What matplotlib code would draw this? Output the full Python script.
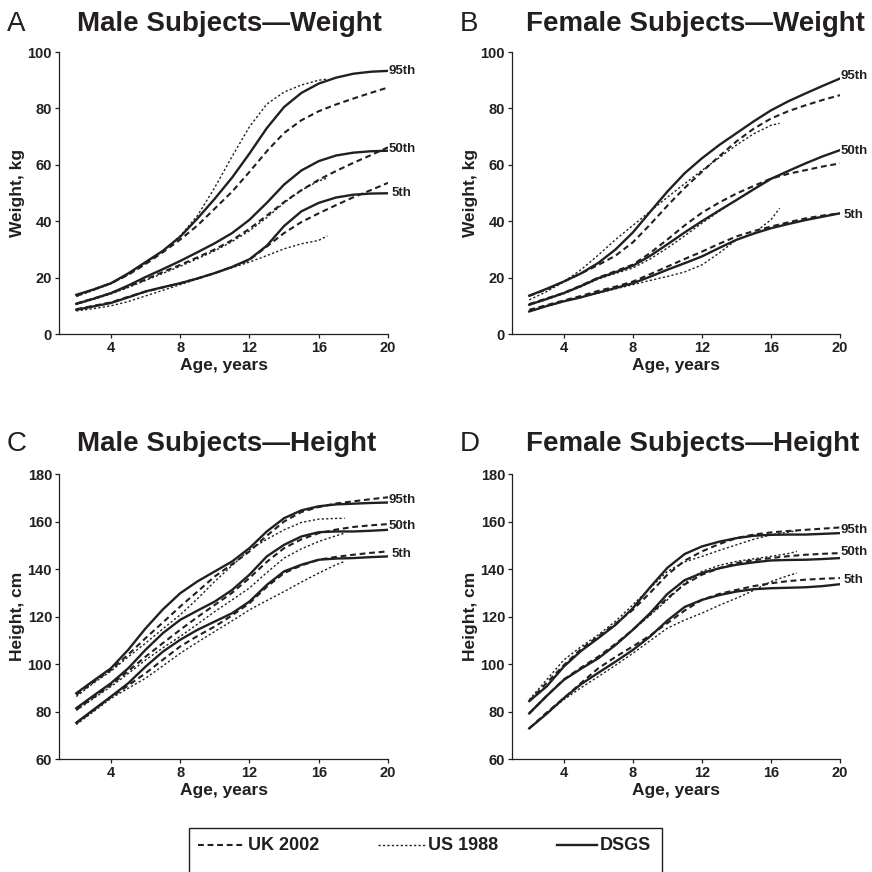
import matplotlib
matplotlib.use("Agg")
from matplotlib import pyplot as plt
from matplotlib.lines import Line2D
from matplotlib.patches import Rectangle
from matplotlib import font_manager

plt.rcParams['font.family'] = ['Liberation Sans', 'DejaVu Sans']
plt.rcParams['font.weight'] = 'bold'
plt.rcParams['axes.labelweight'] = 'bold'

INK = '#231f20'

# ages
ages = list(range(2, 21))
us_ages_wt = list(range(2, 17)) + [16.5]
us_ages_ht = list(range(2, 18)) + [17.5]
pct_labels = ['95th', '50th', '5th']

# A - male weight
a_dsgs_95 = [13.9, 15.8, 18, 21.5, 25.5, 29.5, 34.5, 41, 48, 55.5, 64, 73, 80.5, 85.5, 88.8, 90.9, 92.3, 93, 93.3]
a_uk_95 = [13.5, 15.8, 18, 21, 24.8, 29, 33.5, 38.5, 44.5, 50.5, 57.5, 64.8, 71.3, 75.8, 79, 81.4, 83.5, 85.5, 87.4]
a_us_95 = [13.3, 15.5, 17.8, 21, 25, 29.5, 34.8, 42, 52, 63, 73.5, 81.5, 85.8, 88.3, 90, 90.4]
a_dsgs_50 = [10.7, 12.5, 14.5, 17.2, 20.2, 23, 25.9, 29, 32.2, 35.8, 40.5, 46.5, 53, 58, 61.3, 63.3, 64.3, 64.8, 65]
a_uk_50 = [10.8, 12.6, 14.5, 16.8, 19.3, 22, 24.5, 27.2, 30, 33.3, 37.3, 42, 46.8, 51, 54.7, 57.8, 60.7, 63.4, 66.2]
a_us_50 = [10.5, 12.3, 14.2, 16.5, 19, 21.5, 24, 26.7, 29.5, 32.8, 36.6, 41.3, 46.5, 51, 54.3, 55.3]
a_dsgs_5 = [8.6, 9.8, 11, 13, 15.1, 16.6, 18, 19.7, 21.6, 23.8, 26.5, 31.3, 38.3, 43.5, 46.5, 48.4, 49.4, 49.8, 49.9]
a_uk_5 = [8.8, 10, 11.2, 13.2, 15, 16.5, 18, 19.7, 21.6, 23.8, 26.3, 31, 35.8, 39.7, 42.8, 45.7, 48.5, 51, 53.6]
a_us_5 = [8.2, 9, 10, 11.5, 13.5, 15.5, 17.5, 19.5, 21.6, 23.5, 25.5, 27.8, 30.2, 32, 33.2, 34.8]
a_label_y = [93.2, 65.6, 50.1]

# B - female weight
b_dsgs_95 = [13.6, 16, 18.6, 21.5, 25.2, 30, 36, 43.3, 50.5, 57, 62.3, 67, 71.2, 75.4, 79.3, 82.5, 85.3, 88, 90.6]
b_uk_95 = [13.5, 15.8, 18.6, 21.5, 24.5, 27.8, 32.5, 38.8, 45.5, 51.8, 57.5, 63, 68.3, 72.8, 76.4, 79, 81.1, 83, 84.7]
b_us_95 = [12.1, 15, 18.5, 22.8, 28, 33.5, 38.5, 43.5, 48.5, 53.3, 58, 62.5, 67, 71, 74, 74.7]
b_dsgs_50 = [10.4, 12.4, 14.5, 17, 19.8, 21.9, 24.2, 27.7, 31.8, 36, 40, 43.8, 47.5, 51.3, 55, 57.8, 60.5, 63, 65.2]
b_uk_50 = [10.6, 12.6, 14.6, 17.2, 20, 22.3, 24.6, 28.7, 33.5, 38.5, 43, 46.6, 49.8, 52.5, 55.1, 56.8, 58.1, 59.4, 60.5]
b_us_50 = [10.2, 12.2, 14.3, 16.8, 19.5, 21.5, 23.4, 26.6, 30.5, 34.8, 39.3, 43.5, 47.5, 51.5, 55.2, 56.4]
b_dsgs_5 = [8, 9.9, 11.6, 13, 14.7, 16.3, 18, 20.3, 22.8, 25.1, 27.5, 30.5, 33.4, 35.6, 37.5, 39, 40.4, 41.6, 42.8]
b_uk_5 = [8.6, 10.2, 11.9, 13.5, 15.3, 16.8, 18.6, 21.2, 23.9, 26.6, 29.2, 32, 34.6, 36.5, 38.1, 39.6, 41, 42, 42.8]
b_us_5 = [8, 9.8, 11.5, 13, 14.5, 16, 17.5, 19, 20.4, 22, 24.5, 28.7, 33.4, 35.7, 40.5, 44.6]
b_label_y = [91.4, 65, 42.2]

# C - male height
c_dsgs_95 = [87.7, 93, 98.2, 106, 115, 123, 129.8, 134.8, 139, 143.2, 148.8, 155.8, 161.4, 164.7, 166.4, 167.2, 167.5, 167.8, 168]
c_uk_95 = [87, 92.5, 97.5, 104, 110.9, 117.5, 124.2, 130.5, 136.9, 142, 147.4, 154, 160, 164, 166.1, 167.6, 168.5, 169.4, 170.2]
c_us_95 = [86.3, 92, 97, 103, 108.8, 114.8, 120.7, 127.5, 134.8, 141.5, 148.1, 152.5, 156.5, 159.6, 161, 161.3, 161.3]
c_dsgs_50 = [81.4, 86.7, 91.9, 98.2, 106, 113, 118.6, 122.5, 126.3, 131.2, 137.6, 145.3, 150.2, 153.7, 155.5, 155.8, 155.8, 156.1, 156.5]
c_uk_50 = [80.7, 86, 91.3, 97, 103.1, 108.8, 114.4, 119.8, 124.9, 130, 136.2, 143, 148.8, 152.5, 155.1, 156.6, 157.7, 158.4, 158.9]
c_us_50 = [80.5, 85.5, 90.5, 96, 101.7, 106.8, 111.6, 116.8, 122.1, 127, 132, 138.5, 144.6, 148.5, 151.6, 154, 155.1]
c_dsgs_5 = [75.3, 80.8, 86.3, 91.9, 98.9, 105.2, 110.2, 114.4, 117.9, 121.4, 126.3, 133.3, 139, 141.8, 143.9, 144.4, 144.6, 145, 145.3]
c_uk_5 = [75, 80.5, 86, 91, 96.1, 101.8, 107.4, 111.8, 115.8, 120.5, 125.6, 132.5, 138.3, 141.5, 143.9, 145.1, 146, 146.8, 147.4]
c_us_5 = [74.5, 80, 85.5, 89.8, 94, 99.2, 104.5, 109.2, 113.7, 118.2, 122.8, 126.7, 130.5, 134.5, 138.3, 141.8, 143.2]
c_label_y = [169.2, 158.2, 146.4]

# D - female height
d_dsgs_95 = [84.4, 90.5, 98.9, 105.5, 110.9, 116.5, 123.5, 132.3, 140.5, 146.3, 149.5, 151.5, 153, 154, 154.4, 154.5, 154.5, 154.8, 155.1]
d_uk_95 = [84.4, 92, 99.5, 106.3, 111.6, 117, 122.8, 130, 137.6, 143.5, 147.4, 150.5, 153, 154.5, 155.4, 156, 156.5, 157, 157.5]
d_us_95 = [85, 93.3, 101.7, 107.3, 112.3, 118, 124.9, 132, 139, 143, 145.3, 147.8, 150.2, 152.5, 154.4, 155.5, 156.1]
d_dsgs_50 = [79.2, 86.5, 93.3, 98, 102.4, 108, 114.4, 121.4, 129.5, 135.3, 138.3, 140.3, 141.8, 142.8, 143.6, 143.8, 143.9, 144.2, 144.6]
d_uk_50 = [79.2, 86.5, 93.5, 98.5, 103.1, 108.5, 114.4, 121, 127.7, 133.5, 137.6, 140.3, 142.5, 143.7, 144.6, 145.4, 146, 146.4, 146.7]
d_us_50 = [79.5, 86.5, 93.3, 98, 102.4, 108, 114.4, 120.5, 127, 134, 139, 141.5, 143.2, 144.3, 145.3, 146.5, 147.4]
d_dsgs_5 = [72.9, 79, 85.6, 91.5, 96.3, 101, 105.9, 111.6, 118.3, 124, 127, 129, 130.5, 131.5, 131.9, 132.1, 132.3, 132.8, 133.6]
d_uk_5 = [72.9, 79.5, 85.6, 92, 98.2, 103, 107.4, 112, 117.2, 122.5, 127, 129.5, 131.2, 132.8, 134, 134.9, 135.5, 135.9, 136.2]
d_us_5 = [72.9, 79, 85, 90, 94.7, 99.5, 104.5, 109.8, 115.1, 118.5, 121.4, 124.7, 127.7, 131, 134.7, 137.2, 138.3]
d_label_y = [156.3, 147, 135.5]

uk_style = dict(color=INK, lw=1.5, ls=(0, (2.8, 1.8)))
us_style = dict(color=INK, lw=1.0, ls=(0, (1.6, 1.6)))
dsgs_style = dict(color=INK, lw=1.7, ls='-')

fig = plt.figure(figsize=(8.72, 8.72), dpi=100)


def px(x, y):
    return x / 872, 1 - y / 872


def panel(rect, letter, title, letter_x, title_x, top_y, ylabel, ylim, yticks,
          dsgs, uk, us, us_ages, label_y):
    ax = fig.add_axes(rect)
    for d, u, s in zip(dsgs, uk, us):
        ax.plot(us_ages, s, solid_capstyle='butt', **us_style)
        ax.plot(ages, u, **uk_style)
        ax.plot(ages, d, solid_joinstyle='round', **dsgs_style)
    for lab, y in zip(pct_labels, label_y):
        ax.text(20.8, y, lab, ha='center', va='center', fontsize=9.5,
                color=INK, clip_on=False)
    ax.set_xlim(1, 20)
    ax.set_ylim(*ylim)
    ax.set_xticks([4, 8, 12, 16, 20])
    ax.set_yticks(yticks)
    for side in ['top', 'right']:
        ax.spines[side].set_visible(False)
    for side in ['left', 'bottom']:
        ax.spines[side].set_linewidth(0.9)
        ax.spines[side].set_color(INK)
    ax.tick_params(direction='out', length=3, width=0.9, labelsize=10.5,
                   pad=2, colors=INK)
    ax.set_xlabel('Age, years', fontsize=12.5, fontweight='bold', labelpad=2, color=INK)
    ax.set_ylabel(ylabel, fontsize=12.5, fontweight='bold', labelpad=2, color=INK)
    fig.text(*px(letter_x, top_y), letter, fontsize=20, fontweight='normal',
             ha='left', va='center', color=INK)
    fig.text(*px(title_x, top_y), title, fontsize=20, fontweight='bold',
             ha='left', va='center', color=INK)
    return ax


panel([59 / 872, 1 - 334 / 872, 329 / 872, 282 / 872], 'A', 'Male Subjects\u2014Weight',
      7, 77, 24, 'Weight, kg', (0, 100), [0, 20, 40, 60, 80, 100],
      [a_dsgs_95, a_dsgs_50, a_dsgs_5], [a_uk_95, a_uk_50, a_uk_5],
      [a_us_95, a_us_50, a_us_5], us_ages_wt, a_label_y)
panel([512 / 872, 1 - 334 / 872, 328 / 872, 282 / 872], 'B', 'Female Subjects\u2014Weight',
      460, 526, 24, 'Weight, kg', (0, 100), [0, 20, 40, 60, 80, 100],
      [b_dsgs_95, b_dsgs_50, b_dsgs_5], [b_uk_95, b_uk_50, b_uk_5],
      [b_us_95, b_us_50, b_us_5], us_ages_wt, b_label_y)
panel([59 / 872, 1 - 759 / 872, 329 / 872, 285 / 872], 'C', 'Male Subjects\u2014Height',
      7, 77, 444, 'Height, cm', (60, 180), [60, 80, 100, 120, 140, 160, 180],
      [c_dsgs_95, c_dsgs_50, c_dsgs_5], [c_uk_95, c_uk_50, c_uk_5],
      [c_us_95, c_us_50, c_us_5], us_ages_ht, c_label_y)
panel([512 / 872, 1 - 759 / 872, 328 / 872, 285 / 872], 'D', 'Female Subjects\u2014Height',
      460, 526, 444, 'Height, cm', (60, 180), [60, 80, 100, 120, 140, 160, 180],
      [d_dsgs_95, d_dsgs_50, d_dsgs_5], [d_uk_95, d_uk_50, d_uk_5],
      [d_us_95, d_us_50, d_us_5], us_ages_ht, d_label_y)

# legend box, drawn by hand so it runs off the bottom edge like the original
box_x0, box_y0 = px(189, 828)
fig.patches.append(Rectangle((box_x0, -0.05), (662 - 189) / 872, box_y0 + 0.05,
                             transform=fig.transFigure, fill=False,
                             edgecolor=INK, lw=1.0))
names = {f.name for f in font_manager.fontManager.ttflist}
narrow = 'Liberation Sans Narrow' in names
leg_size = 15 if narrow else 13
for (x0, x1, tx, lab, style) in [(198, 245, 248, 'UK 2002', uk_style),
                                  (378, 425, 428, 'US 1988', us_style),
                                  (557, 597, 600, 'DSGS', dsgs_style)]:
    (fx0, fy), (fx1, _) = px(x0, 845), px(x1, 845)
    fig.lines.append(Line2D([fx0, fx1], [fy, fy], transform=fig.transFigure,
                            **style))
    fig.text(tx / 872, fy, lab, fontsize=leg_size,
             family=['Liberation Sans Narrow', 'Liberation Sans', 'DejaVu Sans'],
             fontweight='bold', ha='left', va='center', color=INK)

fig.savefig('out.png', dpi=100)
